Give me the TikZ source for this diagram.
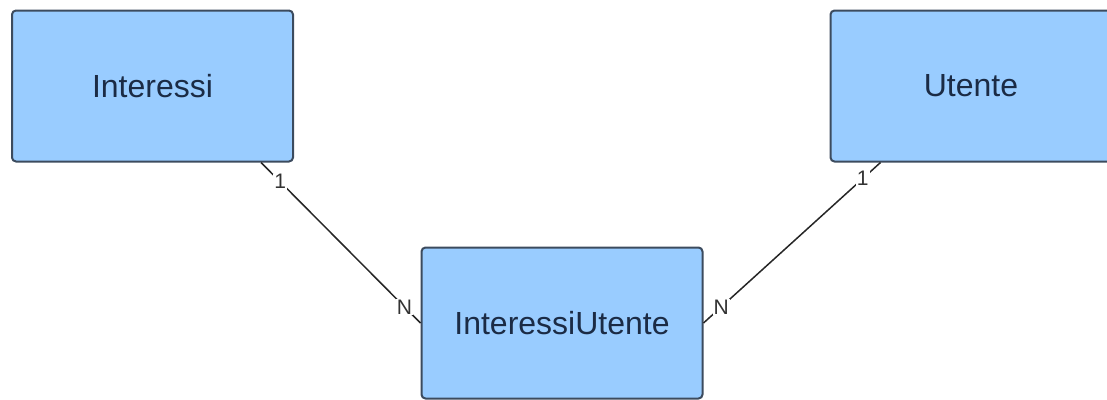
\documentclass[tikz,border=0pt]{standalone}
\usepackage{fontspec}
\setmainfont{Liberation Sans}
\usetikzlibrary{calc}
\definecolor{entfill}{HTML}{99CCFF}
\definecolor{entline}{HTML}{3C4B5E}
\definecolor{enttext}{HTML}{1B2B45}
\begin{document}
\begin{tikzpicture}[
  x=1pt, y=-1pt,
  ent/.style={draw=entline, fill=entfill, text=enttext, rounded corners=4pt,
              line width=2pt, minimum width=281pt, minimum height=151pt,
              font=\fontsize{32}{38}\selectfont},
  rel/.style={line width=1.5pt, color=black!85},
  card/.style={fill=white, inner sep=1pt, text=black!80,
               font=\fontsize{21}{24}\selectfont}
]
\useasboundingbox (0,0) rectangle (1107,399);
\clip (0,0) rectangle (1107,399);
\node[ent] (interessi) at (152.5,86)  {Interessi};
\node[ent] (utente)    at (971,86)    {Utente};
\node[ent] (intut)     at (562,323)   {InteressiUtente};

\draw[rel] ($(interessi.south east)+(-33,0)$) -- (intut.west)
  node[card, pos=0.12] (c1l) {1}
  node[card, pos=0.9]  (cnl) {N};
\draw[rel] ($(utente.south west)+(51,0)$) -- (intut.east)
  node[card, pos=0.1] (c1r) {1}
  node[card, pos=0.9] (cnr) {N};
\end{tikzpicture}
\end{document}
